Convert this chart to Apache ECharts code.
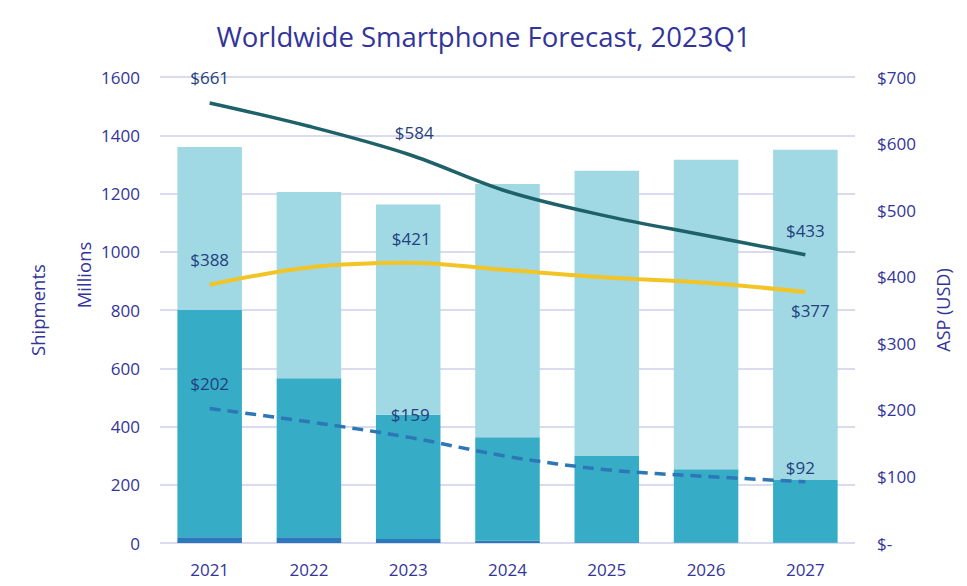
<!DOCTYPE html>
<html><head><meta charset="utf-8">
<script src="https://cdn.jsdelivr.net/npm/echarts@6/dist/echarts.min.js"></script>
<style>html,body{margin:0;padding:0;background:#fff}#c{width:967px;height:586px}</style>
</head><body><div id="c"></div>
<script>
var years = ['2021','2022','2023','2024','2025','2026','2027'];
var ship3G = [20, 20, 14, 8, 3, 2, 1];
var ship4G = [780, 546, 426, 355, 296, 251, 215];
var ship5G = [560, 639, 722, 870, 979, 1063, 1134];
var asp5G = [661, 626, 584, 528, 491, 462, 433];
var aspAll = [388, 414, 421, 410, 399, 391, 377];
var asp4G = [202, 182, 159, 130, 110, 100, 92];
var leftTicks = [0, 200, 400, 600, 800, 1000, 1200, 1400, 1600];
var rightTicks = [0, 100, 200, 300, 400, 500, 600, 700];
var labeledIdx = [0, 2, 6];

var navy = '#33349a';
var labelNavy = '#24407e';
var FONT = 'Open Sans';
function lineData(arr, offsets) {
  return arr.map(function (v, i) {
    var k = labeledIdx.indexOf(i);
    if (k < 0) return {value: v, label: {show: false}};
    return {value: v, label: {show: true, position: 'inside', offset: offsets[k],
      formatter: '$' + v, color: labelNavy, fontSize: 17, fontFamily: FONT}};
  });
}
function vText(txt, x, y, size) {
  return {type: 'text', x: x, y: y, rotation: Math.PI / 2,
    style: {text: txt, fill: navy, fontSize: size, fontFamily: FONT, align: 'center', verticalAlign: 'middle'}};
}
function lineSeries(arr, offsets, color, width, dash) {
  return {type: 'line', yAxisIndex: 1, data: lineData(arr, offsets),
    smooth: 0.35, showSymbol: true, symbol: 'circle', symbolSize: 0,
    itemStyle: {color: color},
    lineStyle: {color: color, width: width, type: dash || 'solid'}};
}
var chart = echarts.init(document.getElementById('c'), null, {renderer: 'svg'});
chart.setOption({
  animation: false,
  title: {text: 'Worldwide Smartphone Forecast, 2023Q1', left: 'center', top: 17,
    textStyle: {color: navy, fontSize: 27.5, fontWeight: 'normal', fontFamily: FONT}},
  grid: {left: 160, right: 112, top: 77, bottom: 43},
  xAxis: {type: 'category', data: years,
    axisLine: {show: false}, axisTick: {show: false},
    axisLabel: {color: navy, fontSize: 17, margin: 18, fontFamily: FONT}},
  yAxis: [
    {type: 'value', min: 0, max: 1600, interval: 200,
      axisLabel: {color: navy, fontSize: 17, margin: 20, fontFamily: FONT,
        formatter: function (v) { return String(v); }},
      splitLine: {lineStyle: {color: '#cfcfeb', width: 1.5}}},
    {type: 'value', min: 0, max: 700, interval: 100, position: 'right',
      axisLabel: {color: navy, fontSize: 17, margin: 22, fontFamily: FONT,
        formatter: function (v) { return v === 0 ? '$-' : '$' + v; }},
      splitLine: {show: false}}
  ],
  graphic: [
    vText('Shipments', 37, 310, 18.5),
    vText('Millions', 83, 275, 18.5),
    vText('ASP (USD)', 943, 310, 18)
  ],
  series: [
    {type: 'bar', stack: 's', data: ship3G, barCategoryGap: '35%', itemStyle: {color: '#2b78bd'}},
    {type: 'bar', stack: 's', data: ship4G, itemStyle: {color: '#36acc6'}},
    {type: 'bar', stack: 's', data: ship5G, itemStyle: {color: '#a0d8e4'}},
    lineSeries(asp5G, [[0, -25], [6, -22], [0, -24]], '#1f6169', 3.5),
    lineSeries(aspAll, [[0, -25], [3, -24], [5, 18]], '#f3c425', 4),
    lineSeries(asp4G, [[0, -25], [2, -23], [-5, -14]], '#2d77b6', 3.5, [11, 7])
  ]
});
</script></body></html>
